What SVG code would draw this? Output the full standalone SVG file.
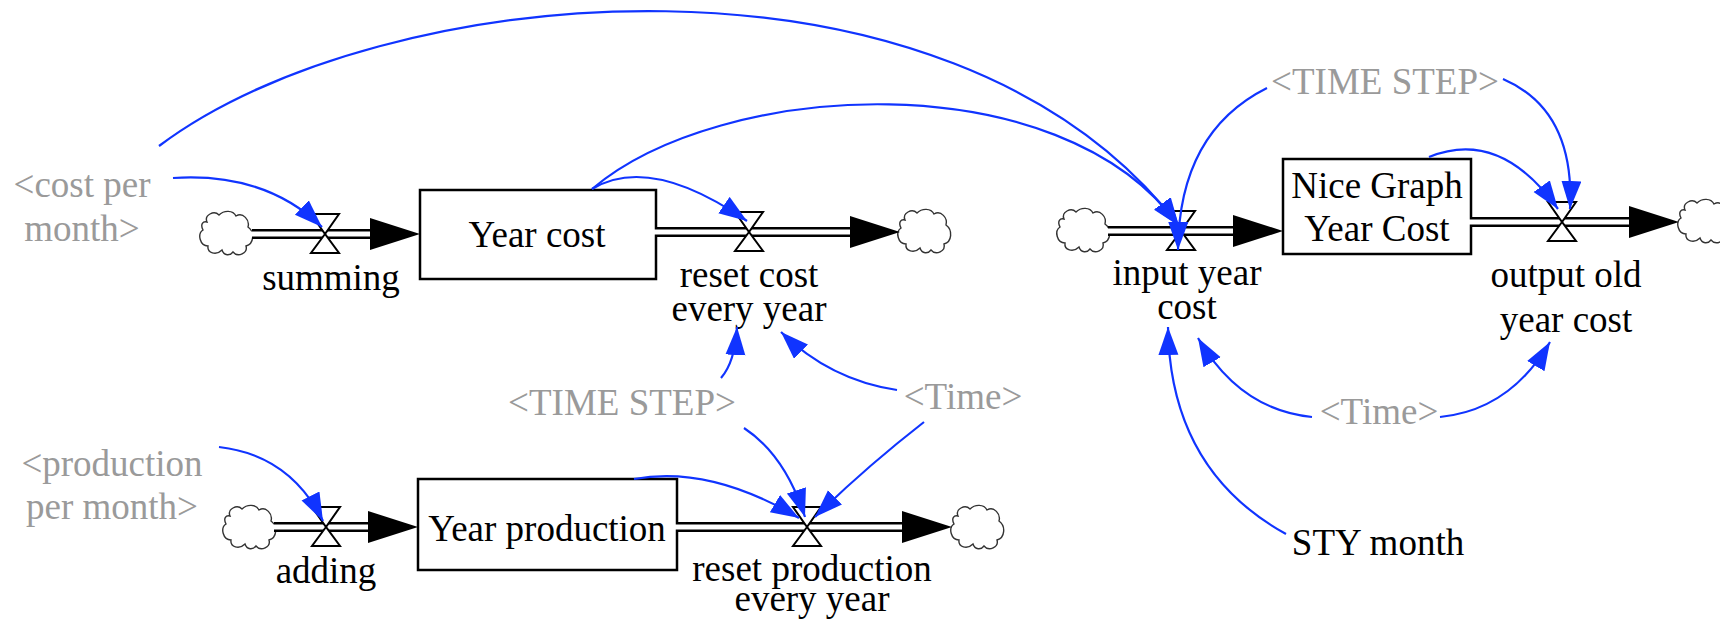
<svg xmlns="http://www.w3.org/2000/svg" width="1720" height="621" viewBox="0 0 1720 621">
  <style>
    text { font-family: "Liberation Serif", "Times New Roman", serif; font-size: 37px; text-anchor: middle; fill: #000; }
    text.shadow { fill: #9a9a9a; }
    .stock { fill: #fff; stroke: #000; stroke-width: 2.5; }
    .pipe-outer { stroke: #000; stroke-width: 10; fill: none; }
    .pipe-inner { stroke: #fff; stroke-width: 5; fill: none; }
    .valve { fill: #fff; stroke: #000; stroke-width: 2; stroke-linejoin: miter; }
    .flowhead { fill: #000; }
    .cloud { fill: #fff; stroke: #333; stroke-width: 1.4; }
    .conn { fill: none; stroke: #1034ff; stroke-width: 2.2; marker-end: url(#arrow); }
  </style>
  <defs>
    <marker id="arrow" markerUnits="userSpaceOnUse" markerWidth="30" markerHeight="22" refX="28" refY="10" orient="auto">
      <path d="M0,0 L28,10 L0,20 Z" fill="#1034ff"/>
    </marker>
    <!-- bumpy cloud marking a source or sink, centred on 0,0 -->
    <path id="cloud" class="cloud" d="M-19,-12 C-22,-19 -12,-24 -7,-19 C-2,-24 7,-24 10,-18 C17,-22 24,-14 22,-7 C29,-2 28,10 20,12 C22,19 12,24 7,18 C4,22 -2,22 -4,16 C-10,22 -19,19 -18,12 C-26,12 -29,0 -23,-4 C-26,-10 -23,-13 -19,-12 Z"/>
  </defs>

  <rect width="1720" height="621" fill="#fff"/>

  <!-- source / sink clouds -->
  <g id="clouds">
    <use href="#cloud" x="226" y="234"/>
    <use href="#cloud" x="924" y="232"/>
    <use href="#cloud" x="1083" y="231"/>
    <use href="#cloud" x="1704" y="222"/>
    <use href="#cloud" x="249" y="528"/>
    <use href="#cloud" x="977" y="528"/>
  </g>

  <!-- stocks -->
  <g id="year-cost">
    <rect class="stock" x="420" y="190" width="236" height="89"/>
    <text x="537" y="247">Year cost</text>
  </g>
  <g id="nice-graph-year-cost">
    <rect class="stock" x="1283" y="159" width="188" height="95"/>
    <text x="1377" y="198">Nice Graph</text>
    <text x="1377" y="241">Year Cost</text>
  </g>
  <g id="year-production">
    <rect class="stock" x="418" y="479" width="259" height="91"/>
    <text x="547" y="541">Year production</text>
  </g>

  <!-- flows: pipe, valve and label -->
  <g id="summing">
    <path class="pipe-outer" d="M252,234 H372"/>
    <path class="pipe-inner" d="M250,234 H372"/>
    <path class="flowhead" d="M370,218 L420,234 L370,250 Z"/>
    <path class="valve" d="M311,214 H339 L325,234 Z M325,234 L311,253 H339 Z"/>
    <text x="331" y="290">summing</text>
  </g>
  <g id="reset-cost-every-year">
    <path class="pipe-outer" d="M656,232 H852"/>
    <path class="pipe-inner" d="M654,232 H852"/>
    <path class="flowhead" d="M850,216 L900,232 L850,248 Z"/>
    <path class="valve" d="M735,212 H763 L749,232 Z M749,232 L735,251 H763 Z"/>
    <text x="749" y="287">reset cost</text>
    <text x="749" y="321">every year</text>
  </g>
  <g id="input-year-cost">
    <path class="pipe-outer" d="M1108,231 H1235"/>
    <path class="pipe-inner" d="M1106,231 H1235"/>
    <path class="flowhead" d="M1233,215 L1283,231 L1233,247 Z"/>
    <path class="valve" d="M1167,211 H1195 L1181,231 Z M1181,231 L1167,250 H1195 Z"/>
    <text x="1187" y="285">input year</text>
    <text x="1187" y="319">cost</text>
  </g>
  <g id="output-old-year-cost">
    <path class="pipe-outer" d="M1471,222 H1631"/>
    <path class="pipe-inner" d="M1469,222 H1631"/>
    <path class="flowhead" d="M1629,206 L1679,222 L1629,238 Z"/>
    <path class="valve" d="M1548,202 H1576 L1562,222 Z M1562,222 L1548,241 H1576 Z"/>
    <text x="1566" y="287">output old</text>
    <text x="1566" y="332">year cost</text>
  </g>
  <g id="adding">
    <path class="pipe-outer" d="M274,527 H370"/>
    <path class="pipe-inner" d="M272,527 H370"/>
    <path class="flowhead" d="M368,511 L418,527 L368,543 Z"/>
    <path class="valve" d="M312,507 H340 L326,527 Z M326,527 L312,546 H340 Z"/>
    <text x="326" y="583">adding</text>
  </g>
  <g id="reset-production-every-year">
    <path class="pipe-outer" d="M677,527 H904"/>
    <path class="pipe-inner" d="M675,527 H904"/>
    <path class="flowhead" d="M902,511 L952,527 L902,543 Z"/>
    <path class="valve" d="M793,507 H821 L807,527 Z M807,527 L793,546 H821 Z"/>
    <text x="812" y="581">reset production</text>
    <text x="812" y="611">every year</text>
  </g>

  <!-- auxiliaries and shadow variables -->
  <g id="cost-per-month">
    <text class="shadow" x="82" y="197">&lt;cost per</text>
    <text class="shadow" x="82" y="241">month&gt;</text>
  </g>
  <g id="production-per-month">
    <text class="shadow" x="112" y="476">&lt;production</text>
    <text class="shadow" x="112" y="519">per month&gt;</text>
  </g>
  <g id="time-step-lower">
    <text class="shadow" x="622" y="415">&lt;TIME STEP&gt;</text>
  </g>
  <g id="time-lower">
    <text class="shadow" x="963" y="409">&lt;Time&gt;</text>
  </g>
  <g id="time-step-upper">
    <text class="shadow" x="1385" y="94">&lt;TIME STEP&gt;</text>
  </g>
  <g id="time-right">
    <text class="shadow" x="1379" y="424">&lt;Time&gt;</text>
  </g>
  <g id="sty-month">
    <text x="1378" y="555">STY month</text>
  </g>

  <!-- causal connectors -->
  <g id="connectors">
    <path class="conn" d="M173,178 Q265,172 322,227"/>
    <path class="conn" d="M159,146 C380,-20 950,-74 1179,226"/>
    <path class="conn" d="M592,189 C720,80 1060,60 1179,226"/>
    <path class="conn" d="M592,189 Q650,154 747,221"/>
    <path class="conn" d="M721,378 Q735,362 737,327"/>
    <path class="conn" d="M897,390 Q830,380 781,332"/>
    <path class="conn" d="M744,428 Q785,455 805,517"/>
    <path class="conn" d="M924,422 Q865,468 815,517"/>
    <path class="conn" d="M634,479 Q710,465 799,518"/>
    <path class="conn" d="M219,447 Q290,455 323,521"/>
    <path class="conn" d="M1267,88 Q1179,132 1178,250"/>
    <path class="conn" d="M1503,79 Q1575,110 1570,209"/>
    <path class="conn" d="M1429,157 Q1500,128 1558,209"/>
    <path class="conn" d="M1312,417 Q1240,410 1198,338"/>
    <path class="conn" d="M1440,417 Q1510,410 1550,342"/>
    <path class="conn" d="M1286,534 Q1170,470 1168,327"/>
  </g>
</svg>
